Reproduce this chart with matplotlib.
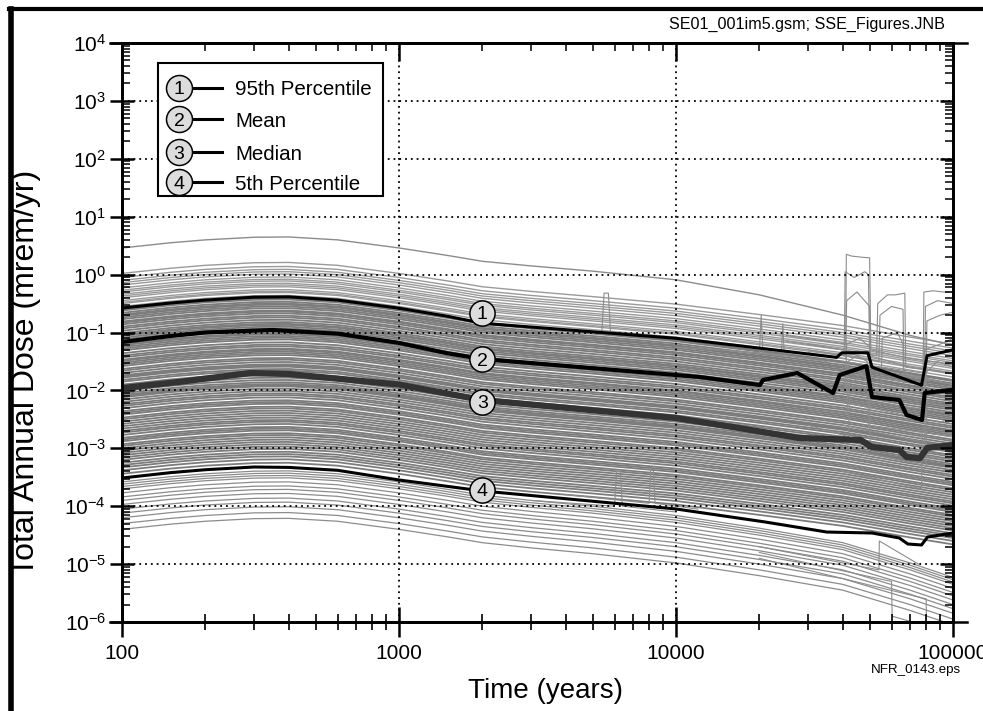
import math
import matplotlib
matplotlib.use("Agg")
import matplotlib.pyplot as plt
from matplotlib.lines import Line2D
from matplotlib.patches import Rectangle
from matplotlib.ticker import FixedLocator, FuncFormatter, NullFormatter, LogLocator

# ------------------------------------------------------------------ data
# common knot times (years) for the realization curves
time_knots = [100, 150, 200, 300, 400, 600, 1000, 1500, 2000, 3000, 5000,
              10000, 20000, 40000, 70000, 100000]
# log10 shape of a realization relative to its value at 100 yr
shape_log = [0.0, 0.09, 0.14, 0.185, 0.19, 0.14, 0.0, -0.13, -0.23, -0.31,
             -0.40, -0.53, -0.71, -0.90, -1.10, -1.22]
shape_low_log = [0.0, 0.09, 0.14, 0.185, 0.19, 0.14, 0.0, -0.13, -0.23, -0.32,
                 -0.42, -0.58, -0.80, -1.05, -1.40, -1.65]

# log10 dose at 100 yr for the gray realizations
gray_upper_log = [0.02, -0.05, -0.10, -0.14, -0.18, -0.23, -0.27, -0.30,
                  -0.34, -0.37, -0.40, -0.45, -0.48, -0.50, -0.55]
gray_band_log = [-0.60, -0.62, -0.66, -0.69, -0.71, -0.74, -0.77, -0.81, -0.83,
                 -0.86, -0.90, -0.93, -0.97, -1.01, -1.04, -1.06, -1.09, -1.12,
                 -1.16, -1.20, -1.22, -1.25, -1.28, -1.31, -1.36, -1.40, -1.43,
                 -1.47, -1.49, -1.52, -1.55, -1.58, -1.63, -1.66, -1.70, -1.74,
                 -1.76, -1.78, -1.82, -1.85, -1.90, -1.93, -1.97, -2.01, -2.05,
                 -2.08, -2.10, -2.12, -2.16, -2.20, -2.24, -2.27, -2.31, -2.36,
                 -2.39, -2.42, -2.47, -2.50, -2.54, -2.58, -2.62, -2.66, -2.70,
                 -2.73, -2.77, -2.82, -2.85, -2.88, -2.93, -2.96, -3.00, -3.04,
                 -3.08, -3.12, -3.16, -3.20, -3.25, -3.29, -3.33, -3.38, -3.44]
gray_lower_log = [-3.58, -3.62, -3.66, -3.70, -3.77, -3.84, -3.90, -3.97,
                  -4.05, -4.12, -4.20, -4.30, -4.40]

# highest single realization (log10 dose at time_knots)
outlier_log = [0.46, 0.55, 0.60, 0.645, 0.65, 0.60, 0.46, 0.33, 0.23, 0.15,
               0.06, -0.09, -0.35, -0.70, -1.05, -1.22]

# realizations with late (episodic) jumps or spikes: (times, log10 dose)
episodes = [
    ([25000, 41000, 41200, 43000, 47000, 50000, 50500, 70000, 100000],
     [-1.05, -1.20, 0.35, 0.32, 0.30, 0.29, -1.30, -1.45, -1.55]),
    ([25000, 40500, 40800, 44000, 48000, 49500, 50000, 70000, 100000],
     [-1.15, -1.30, 0.05, -0.05, 0.05, 0.0, -1.40, -1.60, -1.70]),
    ([30000, 41000, 41300, 45000, 50000, 50400, 100000],
     [-1.35, -1.45, -0.45, -0.30, -0.55, -1.60, -1.90]),
    ([30000, 53000, 53500, 58000, 62000, 67000, 67500, 100000],
     [-1.20, -1.40, -0.50, -0.35, -0.35, -0.32, -1.60, -1.70]),
    ([30000, 54000, 54500, 60000, 66000, 66500, 100000],
     [-1.30, -1.50, -0.70, -0.55, -0.60, -1.70, -1.90]),
    ([40000, 78000, 78500, 85000, 92000, 100000],
     [-1.50, -1.70, -0.30, -0.28, -0.30, -0.30]),
    ([40000, 79000, 79500, 88000, 100000],
     [-1.60, -1.80, -0.55, -0.45, -0.50]),
    ([40000, 80000, 80500, 90000, 100000],
     [-1.70, -1.90, -0.80, -0.70, -0.65]),
    ([3000, 5400, 5500, 5700, 5800, 10000],
     [-0.95, -1.00, -0.32, -0.32, -1.00, -1.10]),
    ([10000, 20000, 20300, 20600, 30000],
     [-1.25, -1.35, -0.70, -1.35, -1.45]),
    ([15000, 24000, 24300, 24600, 35000],
     [-1.30, -1.40, -0.85, -1.40, -1.50]),
    ([30000, 41000, 41300, 46000, 50000, 50400, 100000],
     [-1.90, -2.00, -1.20, -1.10, -1.25, -2.20, -2.40]),
    ([30000, 41500, 41800, 45000, 49000, 49500, 100000],
     [-2.30, -2.40, -1.50, -1.40, -1.50, -2.60, -2.80]),
    ([30000, 42000, 42300, 47000, 50000, 50300, 100000],
     [-2.60, -2.80, -1.90, -1.70, -1.90, -3.00, -3.20]),
    ([30000, 55000, 55500, 63000, 66000, 66400, 100000],
     [-1.80, -2.00, -1.10, -1.00, -1.20, -2.10, -2.30]),
    ([40000, 78500, 79000, 90000, 100000],
     [-2.20, -2.50, -1.30, -1.20, -1.10]),
    ([40000, 79000, 79500, 88000, 100000],
     [-2.60, -2.90, -1.70, -1.50, -1.60]),
    ([40000, 80000, 80400, 92000, 100000],
     [-3.00, -3.30, -2.20, -2.00, -2.10]),
    ([40000, 77000, 77400, 95000, 100000],
     [-3.40, -3.70, -2.70, -2.50, -2.55]),
    ([3000, 6000, 6100, 6300, 6400, 10000],
     [-3.90, -4.00, -3.40, -3.40, -4.00, -4.10]),
    ([4000, 8000, 8100, 8300, 8400, 12000],
     [-3.80, -3.95, -3.35, -3.40, -3.95, -4.05]),
    ([20000, 54000, 54200, 75000],
     [-4.70, -5.10, -4.60, -5.00]),
    ([20000, 80000, 80300, 100000],
     [-4.90, -5.60, -6.20, -6.40]),
    ([20000, 60000, 60300, 100000],
     [-4.80, -5.30, -5.90, -6.20]),
]

# percentile / mean curves
p95_t = [100, 150, 200, 300, 400, 600, 1000, 1500, 2000, 3500, 10000, 20000,
         38000, 39700, 49300, 51000, 77000, 80600, 100000]
p95_log = [-0.577, -0.49, -0.44, -0.39, -0.385, -0.44, -0.58, -0.72, -0.84,
           -0.93, -1.10, -1.27, -1.43, -1.35, -1.35, -1.60, -1.91, -1.40, -1.30]
mean_t = [100, 150, 200, 350, 600, 1000, 1500, 2000, 10000, 12200, 20100,
          20600, 27400, 36900, 39000, 48700, 51000, 64000, 68000, 77300, 79000,
          100000]
mean_log = [-1.164, -1.06, -1.00, -0.957, -1.02, -1.18, -1.36, -1.458, -1.734,
            -1.769, -1.907, -1.82, -1.70, -2.045, -1.734, -1.58, -2.114,
            -2.166, -2.425, -2.511, -2.045, -1.99]
median_t = [100, 160, 290, 400, 610, 1000, 2000, 10000, 16000, 27800, 46400,
            51000, 64000, 68000, 76000, 80600, 100000]
median_log = [-1.96, -1.855, -1.70, -1.717, -1.80, -1.90, -2.166, -2.477,
              -2.632, -2.822, -2.857, -2.978, -3.03, -3.15, -3.17, -2.995,
              -2.943]
p05_t = [100, 150, 200, 300, 400, 600, 1000, 2000, 10000, 21000, 35000, 51000,
         64000, 68700, 77000, 80900, 100000]
p05_log = [-3.513, -3.42, -3.37, -3.323, -3.33, -3.38, -3.547, -3.737, -4.048,
           -4.273, -4.446, -4.463, -4.549, -4.653, -4.670, -4.532, -4.463]

curve_numbers = ["1", "2", "3", "4"]
curve_names = ["95th Percentile", "Mean", "Median", "5th Percentile"]
label_time = 2000
label_log = [-0.663, -1.458, -2.20, -3.72]

x_ticks = [100, 1000, 10000, 100000]
x_tick_labels = ["100", "1000", "10000", "100000"]

# ------------------------------------------------------------------ style
FONT = ["Liberation Sans", "DejaVu Sans"]
plt.rcParams["font.family"] = FONT
plt.rcParams["mathtext.fontset"] = "custom"
plt.rcParams["mathtext.rm"] = "Liberation Sans"
plt.rcParams["mathtext.it"] = "Liberation Sans:italic"
plt.rcParams["mathtext.bf"] = "Liberation Sans:bold"

fig = plt.figure(figsize=(9.83, 7.11), dpi=100)
ax = fig.add_axes([122 / 983, 89 / 711, 831 / 983, 579 / 711])
ax.set_xscale("log")
ax.set_yscale("log")
ax.set_xlim(100, 100000)
ax.set_ylim(1e-6, 1e4)


def dose(logs):
    return [10.0 ** v for v in logs]


for lv in gray_upper_log:
    ax.plot(time_knots, dose([lv + s for s in shape_log]), color="#9a9a9a", lw=1.0, zorder=2)
for lv in gray_band_log:
    ax.plot(time_knots, dose([lv + s for s in shape_log]), color="#7c7c7c", lw=1.3, zorder=2)
for lv in gray_lower_log:
    ax.plot(time_knots, dose([lv + s for s in shape_low_log]), color="#8c8c8c", lw=0.9, zorder=2)
ax.plot(time_knots, dose(outlier_log), color="#8c8c8c", lw=1.0, zorder=2)
for et, el in episodes:
    ax.plot(et, dose(el), color="#8c8c8c", lw=0.8, zorder=2)

ax.plot(p95_t, dose(p95_log), color="black", lw=2.2, zorder=4)
ax.plot(mean_t, dose(mean_log), color="black", lw=3.0, zorder=4)
ax.plot(median_t, dose(median_log), color="#333333", lw=4.5, zorder=4)
ax.plot(p05_t, dose(p05_log), color="black", lw=2.2, zorder=4)

# circled curve labels
for num, lv in zip(curve_numbers, label_log):
    ax.scatter([label_time], [10 ** lv], s=330, facecolor="#dcdcdc",
               edgecolor="black", linewidth=1.1, zorder=6)
    ax.text(label_time, 10 ** lv, num, ha="center", va="center_baseline",
            fontsize=14, zorder=7)

# grid
ax.grid(True, which="major", color="black", linestyle=(0, (1, 2.2)), lw=1.3)
ax.set_axisbelow(False)

# ticks
ax.xaxis.set_major_locator(FixedLocator(x_ticks))
ax.xaxis.set_major_formatter(FuncFormatter(
    lambda v, p: x_tick_labels[x_ticks.index(int(round(v)))] if int(round(v)) in x_ticks else ""))
ax.xaxis.set_minor_locator(LogLocator(base=10, subs=range(2, 10), numticks=50))
ax.xaxis.set_minor_formatter(NullFormatter())
ax.yaxis.set_major_locator(LogLocator(base=10, numticks=20))
ax.yaxis.set_major_formatter(FuncFormatter(lambda v, p: r"$10^{%d}$" % round(math.log10(v))))
ax.yaxis.set_minor_locator(LogLocator(base=10, subs=range(2, 10), numticks=100))
ax.yaxis.set_minor_formatter(NullFormatter())

ax.tick_params(axis="x", which="major", direction="inout", length=21, width=1.8,
               labelsize=15, pad=5, top=False)
ax.tick_params(axis="x", which="minor", direction="inout", length=12, width=1.2, top=False)
ax.tick_params(axis="y", which="major", direction="inout", length=17, width=1.8,
               labelsize=15, pad=3, right=False)
ax.tick_params(axis="y", which="minor", direction="in", length=6, width=1.1, right=False)
for sp in ax.spines.values():
    sp.set_linewidth(1.8)

axt = ax.twiny()
axt.set_xscale("log")
axt.set_xlim(100, 100000)
axt.xaxis.set_major_locator(FixedLocator(x_ticks))
axt.xaxis.set_minor_locator(LogLocator(base=10, subs=range(2, 10), numticks=50))
axt.xaxis.set_major_formatter(NullFormatter())
axt.xaxis.set_minor_formatter(NullFormatter())
axt.tick_params(axis="x", which="major", direction="in", length=13, width=1.8)
axt.tick_params(axis="x", which="minor", direction="in", length=6, width=1.1)

axr = ax.twinx()
axr.set_yscale("log")
axr.set_ylim(1e-6, 1e4)
axr.yaxis.set_major_locator(LogLocator(base=10, numticks=20))
axr.yaxis.set_minor_locator(LogLocator(base=10, subs=range(2, 10), numticks=100))
axr.yaxis.set_major_formatter(NullFormatter())
axr.yaxis.set_minor_formatter(NullFormatter())
axr.tick_params(axis="y", which="major", direction="in", length=9.5, width=1.8)
axr.tick_params(axis="y", which="minor", direction="in", length=6, width=1.1)
for a in (axt, axr):
    for sp in a.spines.values():
        sp.set_linewidth(1.8)

# extended frame lines at top and bottom
for yy in (0.0, 1.0):
    ax.add_line(Line2D([-0.0145, 1.017], [yy, yy], transform=ax.transAxes,
                       color="black", lw=1.8, clip_on=False, zorder=5))

# legend box
ax.add_patch(Rectangle((0.0433, 0.7358), 0.3141 - 0.0433, 0.9655 - 0.7358,
                       transform=ax.transAxes, facecolor="white",
                       edgecolor="black", lw=1.5, zorder=8))
leg_rows = [0.9223, 0.8687, 0.8117, 0.7599]
for num, name, yy in zip(curve_numbers, curve_names, leg_rows):
    ax.add_line(Line2D([0.075, 0.1203], [yy, yy], transform=ax.transAxes,
                       color="black", lw=2.2, zorder=9))
    ax.scatter([0.0686], [yy], s=350, transform=ax.transAxes, facecolor="#dcdcdc",
               edgecolor="black", linewidth=1.1, zorder=10, clip_on=False)
    ax.text(0.0686, yy, num, transform=ax.transAxes, ha="center",
            va="center_baseline", fontsize=14, zorder=11)
    ax.text(0.136, yy, name, transform=ax.transAxes, ha="left",
            va="center_baseline", fontsize=14.8, zorder=11)

# axis titles and annotations
fig.text(26 / 983, 1 - 373 / 711, "Total Annual Dose (mrem/yr)", rotation=90,
         ha="center", va="center", fontsize=23)
fig.text(546 / 983, 1 - 691 / 711, "Time (years)", ha="center", va="center",
         fontsize=20)
fig.text(945 / 983, 1 - 24 / 711, "SE01_001im5.gsm; SSE_Figures.JNB",
         ha="right", va="center", fontsize=11.6)
fig.text(961 / 983, 1 - 670 / 711, "NFR_0143.eps", ha="right", va="center",
         fontsize=9.6)

# outer figure frame (left and top)
fig.add_artist(Line2D([11 / 983, 11 / 983], [0, 1 - 9 / 711],
                      transform=fig.transFigure, color="black", lw=4.0))
fig.add_artist(Line2D([9 / 983, 1], [1 - 9 / 711, 1 - 9 / 711],
                      transform=fig.transFigure, color="black", lw=3.0))

fig.savefig("out.png", dpi=100)
